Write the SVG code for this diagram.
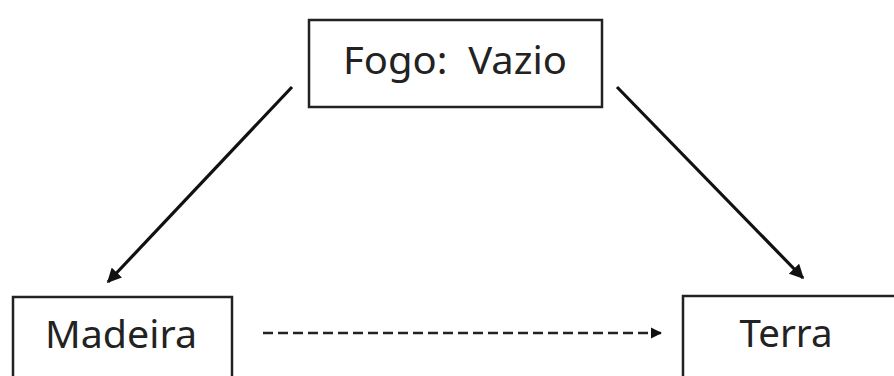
<svg xmlns="http://www.w3.org/2000/svg" width="894" height="376" viewBox="0 0 894 376">
  <style>
    .box { fill: #fff; stroke: #222; stroke-width: 2.5; }
    .label { font-family: "Noto Sans", "Open Sans", sans-serif; font-size: 38px; fill: #222; }
    .edge { stroke: #111; stroke-width: 3.2; fill: none; }
    .dashed { stroke: #222; stroke-width: 2.5; stroke-dasharray: 10 5; fill: none; }
  </style>
  <defs>
    <marker id="head" viewBox="0 0 10 10" refX="9" refY="5" markerWidth="4.5" markerHeight="4.5" orient="auto" markerUnits="strokeWidth">
      <path d="M0,0 L10,5 L0,10 z" fill="#111"/>
    </marker>
  </defs>
  <rect width="894" height="376" fill="#fff"/>

  <g id="fogo">
    <rect class="box" x="309" y="20" width="293" height="87"/>
    <text class="label" x="455" y="74" text-anchor="middle" xml:space="preserve" textLength="224" lengthAdjust="spacingAndGlyphs">Fogo:  Vazio</text>
  </g>

  <g id="madeira">
    <rect class="box" x="13" y="297" width="219" height="100"/>
    <text class="label" x="121" y="348" text-anchor="middle" textLength="152" lengthAdjust="spacingAndGlyphs">Madeira</text>
  </g>

  <g id="terra">
    <rect class="box" x="683" y="296" width="230" height="100"/>
    <text class="label" x="786" y="347" text-anchor="middle" textLength="93" lengthAdjust="spacingAndGlyphs">Terra</text>
  </g>

  <g id="connectors">
    <line class="edge" x1="292" y1="87" x2="108" y2="282" marker-end="url(#head)"/>
    <line class="edge" x1="617" y1="87" x2="803" y2="278" marker-end="url(#head)"/>
    <line class="dashed" x1="263" y1="333" x2="661" y2="333" marker-end="url(#head)"/>
  </g>
</svg>
